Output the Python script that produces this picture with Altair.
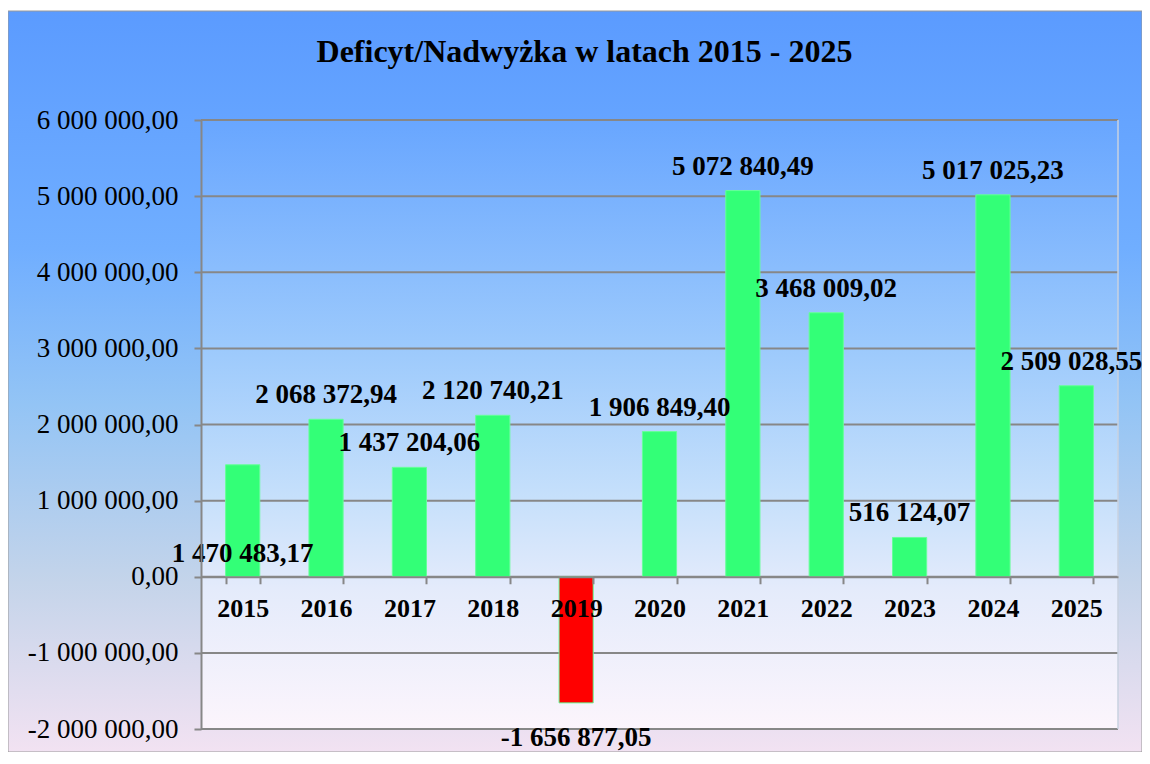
import altair as alt
import pandas as pd

YEARS = ["2015", "2016", "2017", "2018", "2019", "2020", "2021", "2022", "2023", "2024", "2025"]
VALUES = [1470483.17, 2068372.94, 1437204.06, 2120740.21, -1656877.05, 1906849.40,
          5072840.49, 3468009.02, 516124.07, 5017025.23, 2509028.55]
Y_TICKS = [-2000000, -1000000, 0, 1000000, 2000000, 3000000, 4000000, 5000000, 6000000]
TITLE = "Deficyt/Nadwyżka w latach 2015 - 2025"

# layout / style (not data): label offsets in pixels (dx, dy)
W, H = 917, 609
PAD = {"left": 193, "top": 112, "right": 24, "bottom": 23}
FONT = "Liberation Serif"
DEFAULT_OFFSET = (0, -24)
SPECIAL_OFFSET = {"2015": (0, 89), "2019": (0, 35), "2025": (-5, -24)}


def fmt(v):
    return f"{v:,.2f}".replace(",", " ").replace(".", ",")


df = pd.DataFrame({"year": YEARS, "value": VALUES})
df["label"] = [fmt(v) for v in VALUES]
df["sign"] = ["neg" if v < 0 else "pos" for v in VALUES]
grid_df = pd.DataFrame({"value": Y_TICKS})
one = pd.DataFrame({"a": [0]})

y_scale = alt.Scale(domain=[Y_TICKS[0], Y_TICKS[-1]], nice=False, zero=False)
x_scale = alt.Scale(paddingInner=0.59, paddingOuter=0.295)

y_axis = alt.Axis(
    values=Y_TICKS, grid=False, zindex=1,
    labelExpr="(datum.value < 0 ? '-' : '') + replace(replace(format(abs(datum.value), ',.2f'), regexp(',', 'g'), ' '), '.', ',')",
    labelFont=FONT, labelFontSize=27, labelColor="black", labelPadding=16,
    tickSize=7, tickColor="#878787", tickWidth=2,
    domainColor="#878787", domainWidth=2,
)
x_axis = alt.Axis(
    labelAngle=0, offset=-(H * 2 / 8), tickBand="extent",
    labelFont=FONT, labelFontSize=26, labelFontWeight="bold", labelColor="black",
    labelPadding=12, tickSize=7, tickColor="#878787", tickWidth=2,
    domainColor="#878787", domainWidth=2, grid=False, zindex=1,
)


def Y():
    return alt.Y("value:Q", scale=y_scale, title=None, axis=y_axis)


def X():
    return alt.X("year:N", sort=YEARS, scale=x_scale, title=None, axis=x_axis)


def grad(stops):
    return alt.LinearGradient(
        gradient="linear", x1=0, x2=0, y1=0, y2=1,
        stops=[alt.GradientStop(offset=o, color=c) for o, c in stops],
    )


frame = alt.Chart(one).mark_rect(
    fill=grad([(0, "#5b9bff"), (0.32, "#70aeff"), (0.53, "#93c4f5"), (0.77, "#c4d4ea"), (1, "#f2e2f2")]),
    stroke="#9a9a9a", strokeWidth=1,
).encode(x=alt.value(-193), x2=alt.value(W + 24), y=alt.value(-109), y2=alt.value(H + 23))

plot_bg = alt.Chart(one).mark_rect(
    fill=grad([(0, "#68a6ff"), (0.38, "#9dcafc"), (0.62, "#c6e0fb"), (0.77, "#e4ebfb"), (1, "#fcf5fc")]),
).encode(x=alt.value(0), x2=alt.value(W), y=alt.value(0), y2=alt.value(H))

grid = alt.Chart(grid_df).mark_rule(color="#878787", strokeWidth=2).encode(y=Y())

right_border = alt.Chart(one).mark_rule(color="#c9d2e0", strokeWidth=1.5).encode(
    x=alt.value(W), y=alt.value(0), y2=alt.value(H)
)

bars = alt.Chart(df).mark_bar(stroke="#66ff99", strokeWidth=1).encode(
    x=X(),
    y=Y(),
    color=alt.Color("sign:N", scale=alt.Scale(domain=["pos", "neg"], range=["#33ff77", "#ff0000"]), legend=None),
)


def label_layer(offset, years, include):
    cond = " || ".join([f"datum.year == '{y}'" for y in years])
    expr = cond if include else f"!({cond})"
    return alt.Chart(df).transform_filter(expr).mark_text(
        font=FONT, fontSize=27, fontWeight="bold", color="black", baseline="middle",
        dx=offset[0], dy=offset[1],
    ).encode(x=X(), y=Y(), text="label:N")


labels = [label_layer(DEFAULT_OFFSET, list(SPECIAL_OFFSET), False)]
for yr, off in SPECIAL_OFFSET.items():
    labels.append(label_layer(off, [yr], True))

chart = alt.layer(frame, plot_bg, grid, right_border, bars, *labels).properties(
    width=W, height=H,
    padding=PAD,
    autosize=alt.AutoSizeParams(type="none"),
    background="white",
    title=alt.TitleParams(
        TITLE, font=FONT, fontSize=32, fontWeight="bold", color="black",
        anchor="middle", frame="group", dx=-75, offset=-58, zindex=1,
    ),
).configure_view(stroke=None)

chart.save("out.html", embed_options={"renderer": "svg", "actions": False})
